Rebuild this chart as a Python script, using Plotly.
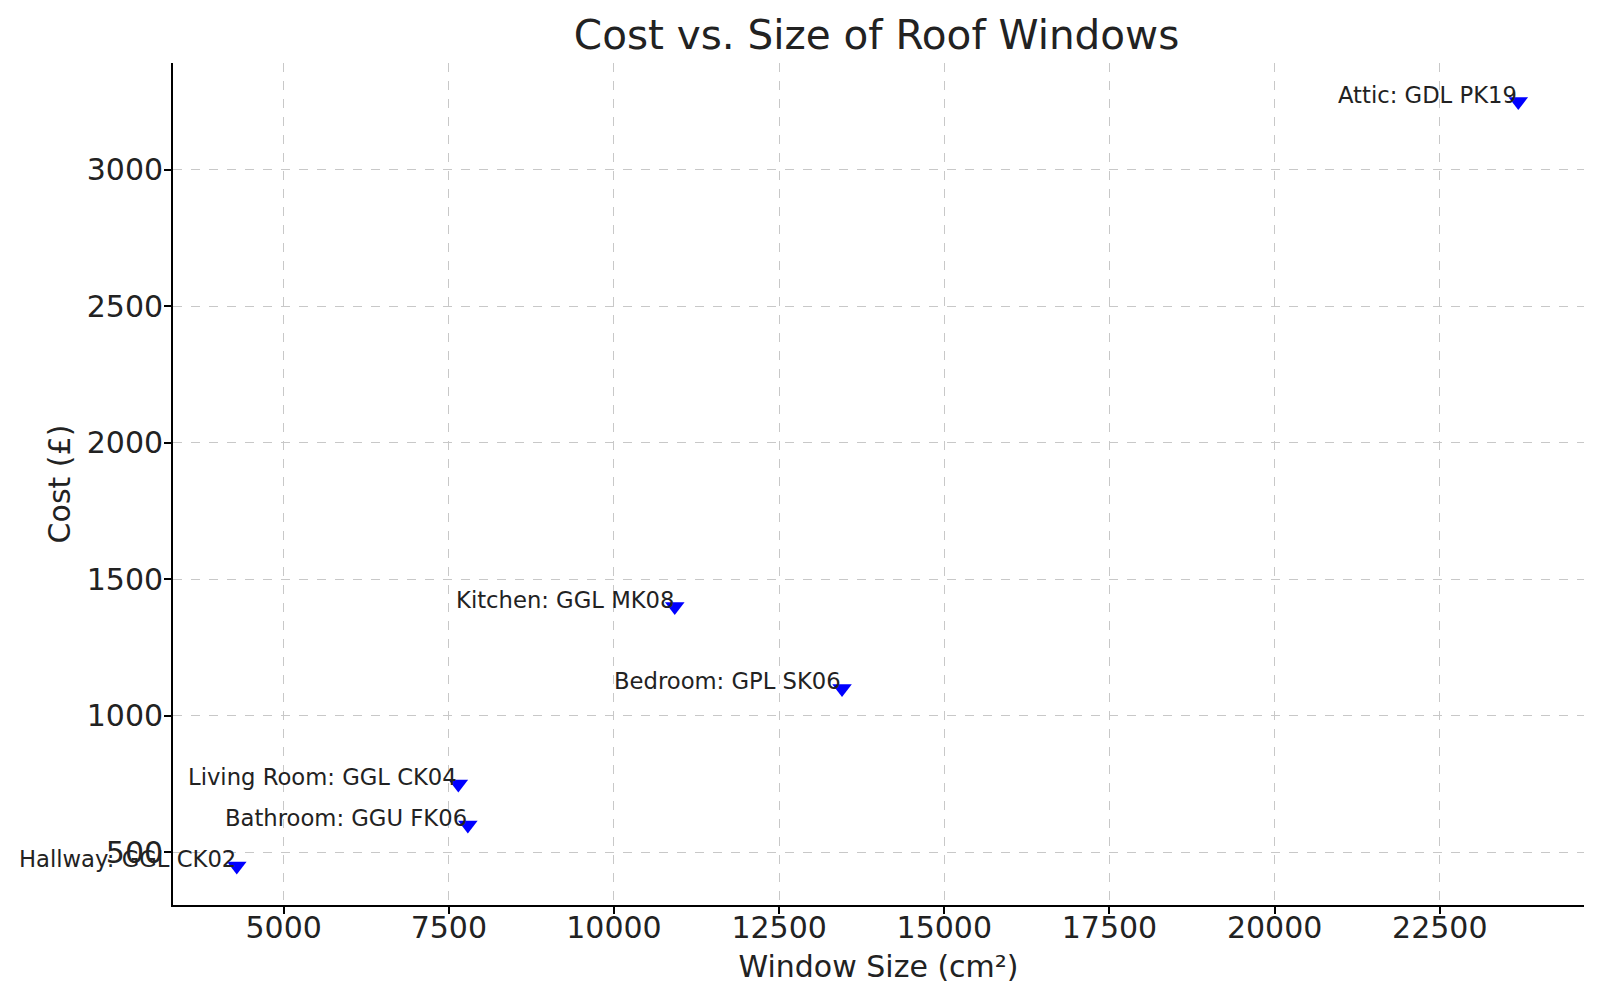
import plotly.graph_objects as go

rooms = ["Living Room", "Kitchen", "Bedroom", "Bathroom", "Attic", "Hallway"]
models = ["GGL CK04", "GGL MK08", "GPL SK06", "GGU FK06", "GDL PK19", "GGL CK02"]
sizes = [7644, 10920, 13452, 7788, 23688, 4290]
costs = [750, 1400, 1100, 600, 3250, 450]

x_ticks = [5000, 7500, 10000, 12500, 15000, 17500, 20000, 22500]
y_ticks = [500, 1000, 1500, 2000, 2500, 3000]

FONT = "DejaVu Sans"
TXT = "#222222"

fig = go.Figure()
fig.add_trace(go.Scatter(
    x=sizes, y=costs, mode="markers",
    marker=dict(symbol="triangle-down", size=17, color="#0000ff", line=dict(width=0)),
    showlegend=False, hoverinfo="skip",
))

for r, m, xv, yv in zip(rooms, models, sizes, costs):
    fig.add_annotation(
        x=xv, y=yv, xref="x", yref="y",
        text=f"{r}: {m}", showarrow=False,
        xanchor="right", yanchor="bottom", borderpad=0, yshift=-7,
        font=dict(family=FONT, size=22.7, color=TXT),
    )

axis_common = dict(
    showline=True, linecolor="black", linewidth=1.8, mirror=False,
    ticks="outside", ticklen=7, tickwidth=1.6, tickcolor="black",
    showgrid=True, gridcolor="#c8c8c8", gridwidth=1, griddash="dash",
    zeroline=False,
    tickfont=dict(family=FONT, size=30, color=TXT),
)

fig.update_xaxes(
    range=[3325, 24683], tickvals=x_ticks, ticktext=[str(v) for v in x_ticks],
    ticklabelstandoff=-12,
    title=dict(text="Window Size (cm²)", font=dict(family=FONT, size=30, color=TXT), standoff=12),
    **axis_common,
)
fig.update_yaxes(
    range=[307, 3391], tickvals=y_ticks, ticktext=[str(v) for v in y_ticks],
    ticklabelstandoff=-5,
    title=dict(text="Cost (£)", font=dict(family=FONT, size=30, color=TXT), standoff=7),
    **axis_common,
)

fig.update_layout(
    width=1592, height=994,
    margin=dict(l=165, r=16, t=55, b=97, autoexpand=False),
    paper_bgcolor="white", plot_bgcolor="white",
    title=dict(text="Cost vs. Size of Roof Windows", x=0.5456, xanchor="center",
               y=0.973, yanchor="middle", yref="container",
               font=dict(family=FONT, size=40.5, color=TXT)),
)

fig.write_html("out.html")
